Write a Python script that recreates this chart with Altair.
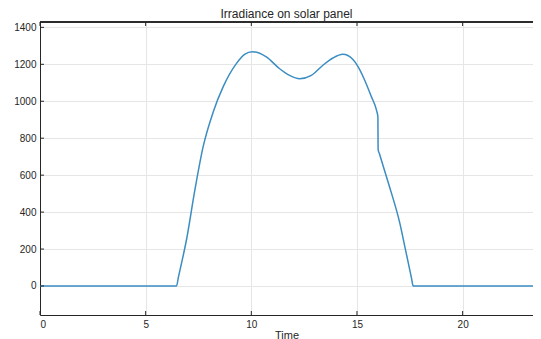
import altair as alt
import pandas as pd

# Data
time = [0, 6.46, 6.55, 6.93, 7.33, 7.72, 8.2, 8.67, 9.3, 9.7, 10.05, 10.71, 11.34,
        11.81, 12.29, 12.84, 13.39, 13.86, 14.33, 14.81, 15.05, 15.36, 15.68,
        15.92, 15.99, 16.0, 16.06, 16.5, 17.03, 17.3, 17.58, 17.66, 23.33]
irradiance = [0, 0, 48, 249, 520, 754, 943, 1079, 1205, 1255, 1268, 1240, 1176,
              1140, 1122, 1140, 1195, 1234, 1254, 1226, 1187, 1115, 1025,
              953, 916, 740, 717, 552, 339, 194, 43, 0, 0]
x_ticks = [0, 5, 10, 15, 20]
y_ticks = [0, 200, 400, 600, 800, 1000, 1200, 1400]

W, H = 493, 293
AX = "#262626"
FONT = "Liberation Sans"

df = pd.DataFrame({"t": time, "irr": irradiance})
xt = pd.DataFrame({"t": x_ticks})
yt = pd.DataFrame({"irr": y_ticks})

xscale = alt.Scale(domain=[0, 23.33], nice=False, zero=False)
yscale = alt.Scale(domain=[-157, 1429], nice=False, zero=False)

line = alt.Chart(df).mark_line(color="#3b8dc2", strokeWidth=1.5, interpolate="monotone").encode(
    x=alt.X("t:Q", scale=xscale, title="Time",
            axis=alt.Axis(values=x_ticks, grid=True, gridColor="#e6e6e6", tickSize=0,
                          domainColor=AX, labelColor=AX, labelFont=FONT, labelFontSize=10,
                          labelPadding=4, titleFont=FONT, titleFontSize=11,
                          titleFontWeight="normal", titleColor=AX, titlePadding=0)),
    y=alt.Y("irr:Q", scale=yscale, title=None,
            axis=alt.Axis(values=y_ticks, format="d", grid=True, gridColor="#e6e6e6",
                          tickSize=0, domainColor=AX, labelColor=AX, labelFont=FONT,
                          labelFontSize=10, labelPadding=4)),
)

xtick_bottom = alt.Chart(xt).mark_rule(color=AX, strokeWidth=1).encode(
    x=alt.X("t:Q", scale=xscale), y=alt.value(H), y2=alt.value(H - 4))
xtick_top = alt.Chart(xt).mark_rule(color=AX, strokeWidth=1).encode(
    x=alt.X("t:Q", scale=xscale), y=alt.value(0), y2=alt.value(4))
ytick_left = alt.Chart(yt).mark_rule(color=AX, strokeWidth=1).encode(
    y=alt.Y("irr:Q", scale=yscale), x=alt.value(0), x2=alt.value(4))
top_border = alt.Chart(xt).mark_rule(color=AX, strokeWidth=1).encode(
    x=alt.value(0), x2=alt.value(W), y=alt.value(0))

chart = alt.layer(line, xtick_bottom, xtick_top, ytick_left, top_border).properties(
    width=W, height=H,
    title=alt.Title("Irradiance on solar panel", font=FONT, fontSize=12,
                    fontWeight="normal", color=AX, offset=1),
    autosize=alt.AutoSizeParams(type="none"),
    padding={"left": 32, "top": 14, "right": 0, "bottom": 26},
    background="white",
).configure_view(stroke=None)

chart.save("out.html", embed_options={"renderer": "svg", "actions": False})
